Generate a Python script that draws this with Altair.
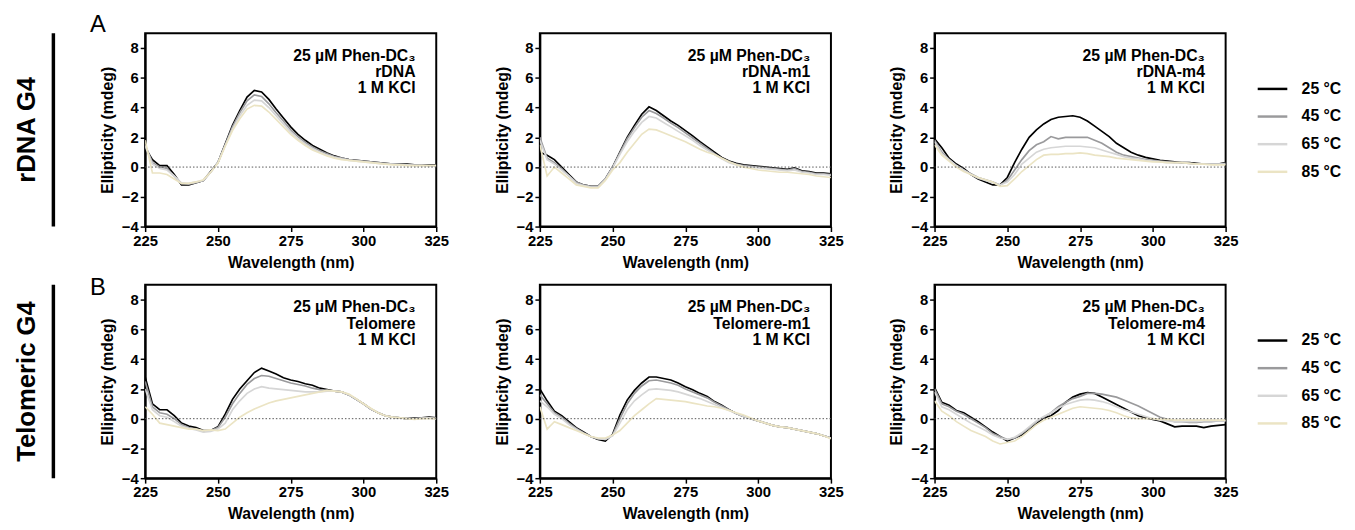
import altair as alt
import pandas as pd

WAVELENGTH = [225 + 2.5 * i for i in range(41)]
TEMPS = ["25 °C", "45 °C", "65 °C", "85 °C"]
COLORS = ["#000000", "#9a9a9c", "#d6d6d6", "#ebe4c4"]
X_TICKS = [225, 250, 275, 300, 325]
Y_TICKS = [-4, -2, 0, 2, 4, 6, 8]
DRUG = "25 µM Phen-DC₃"
SALT = "1 M KCl"
ROW_LABELS = ["rDNA G4", "Telomeric G4"]
LETTERS = ["A", "B"]

# rDNA
RDNA_25 = [1.3, 0.5, 0.1, 0.1, -0.5, -1.2, -1.2, -1.05, -0.9, -0.3, 0.3, 1.55, 2.8, 3.8, 4.7, 5.15, 5.05, 4.55, 3.9, 3.3, 2.7, 2.2, 1.8, 1.45, 1.2, 0.95, 0.75, 0.6, 0.5, 0.45, 0.4, 0.35, 0.3, 0.25, 0.2, 0.2, 0.2, 0.15, 0.15, 0.15, 0.15]
RDNA_45 = [1.5, 0.3, 0.0, -0.1, -0.6, -1.1, -1.15, -1.05, -0.9, -0.35, 0.3, 1.5, 2.7, 3.65, 4.45, 4.85, 4.75, 4.25, 3.65, 3.1, 2.5, 2.05, 1.65, 1.35, 1.1, 0.9, 0.7, 0.6, 0.5, 0.45, 0.4, 0.35, 0.3, 0.25, 0.2, 0.2, 0.15, 0.15, 0.15, 0.1, 0.1]
RDNA_65 = [1.4, 0.2, -0.1, -0.2, -0.6, -1.1, -1.1, -1.0, -0.9, -0.35, 0.3, 1.45, 2.55, 3.45, 4.15, 4.5, 4.45, 4.0, 3.45, 2.9, 2.35, 1.9, 1.55, 1.25, 1.0, 0.8, 0.65, 0.55, 0.45, 0.4, 0.35, 0.3, 0.25, 0.2, 0.2, 0.15, 0.15, 0.1, 0.1, 0.1, 0.1]
RDNA_85 = [1.8, -0.4, -0.4, -0.5, -0.8, -1.1, -1.1, -1.0, -0.85, -0.35, 0.25, 1.4, 2.45, 3.25, 3.9, 4.15, 4.1, 3.7, 3.2, 2.7, 2.2, 1.8, 1.45, 1.15, 0.95, 0.75, 0.6, 0.5, 0.45, 0.4, 0.35, 0.3, 0.25, 0.2, 0.15, 0.15, 0.1, 0.1, 0.1, 0.1, 0.1]

# rDNA-m1
RDNA_M1_25 = [1.0, 0.8, 0.5, 0.0, -0.5, -1.0, -1.2, -1.3, -1.3, -0.8, 0.0, 1.0, 2.0, 2.8, 3.55, 4.05, 3.8, 3.45, 3.1, 2.8, 2.45, 2.1, 1.7, 1.35, 1.0, 0.65, 0.4, 0.25, 0.15, 0.1, 0.05, 0.0, -0.05, -0.1, -0.15, -0.05, -0.25, -0.3, -0.4, -0.4, -0.45]
RDNA_M1_45 = [2.0, 0.6, 0.3, -0.1, -0.6, -1.0, -1.2, -1.3, -1.3, -0.8, 0.0, 0.95, 1.9, 2.65, 3.35, 3.8, 3.6, 3.3, 2.95, 2.65, 2.3, 1.95, 1.6, 1.25, 0.9, 0.6, 0.35, 0.2, 0.1, 0.05, 0.0, -0.05, -0.1, -0.15, -0.2, -0.1, -0.3, -0.35, -0.45, -0.45, -0.5]
RDNA_M1_65 = [1.8, 0.5, 0.2, -0.2, -0.6, -1.1, -1.25, -1.35, -1.35, -0.85, -0.05, 0.85, 1.7, 2.4, 3.0, 3.4, 3.3, 3.0, 2.7, 2.4, 2.1, 1.8, 1.45, 1.15, 0.85, 0.55, 0.3, 0.15, 0.05, 0.0, -0.05, -0.1, -0.15, -0.2, -0.25, -0.2, -0.35, -0.4, -0.5, -0.5, -0.55]
RDNA_M1_85 = [1.5, -0.6, 0.0, -0.4, -0.8, -1.2, -1.3, -1.4, -1.4, -0.9, -0.2, 0.3, 1.0, 1.6, 2.2, 2.55, 2.5, 2.3, 2.1, 1.9, 1.7, 1.45, 1.2, 1.0, 0.85, 0.6, 0.35, 0.15, 0.0, -0.1, -0.2, -0.25, -0.3, -0.35, -0.35, -0.4, -0.45, -0.5, -0.6, -0.65, -0.7]

# rDNA-m4
RDNA_M4_25 = [1.9, 1.3, 0.6, 0.2, -0.1, -0.5, -0.8, -1.0, -1.2, -1.2, -0.7, 0.3, 1.2, 2.0, 2.5, 2.9, 3.2, 3.35, 3.4, 3.45, 3.35, 3.1, 2.75, 2.4, 2.05, 1.6, 1.3, 1.0, 0.8, 0.65, 0.55, 0.45, 0.4, 0.35, 0.3, 0.3, 0.25, 0.2, 0.2, 0.2, 0.3]
RDNA_M4_45 = [1.8, 1.0, 0.5, 0.1, -0.2, -0.45, -0.7, -0.85, -1.0, -1.2, -0.9, -0.2, 0.5, 1.1, 1.5, 1.7, 2.05, 1.9, 2.0, 2.0, 2.0, 2.0, 1.8, 1.6, 1.3, 1.0, 0.8, 0.7, 0.6, 0.5, 0.45, 0.4, 0.35, 0.3, 0.3, 0.25, 0.2, 0.2, 0.2, 0.2, 0.25]
RDNA_M4_65 = [1.7, 0.9, 0.5, 0.1, -0.2, -0.5, -0.75, -0.9, -1.05, -1.2, -1.0, -0.5, 0.2, 0.6, 1.0, 1.2, 1.3, 1.35, 1.4, 1.4, 1.4, 1.35, 1.3, 1.15, 1.0, 0.85, 0.7, 0.6, 0.55, 0.45, 0.4, 0.35, 0.3, 0.3, 0.3, 0.25, 0.2, 0.2, 0.2, 0.2, 0.2]
RDNA_M4_85 = [1.5, 0.8, 0.4, 0.0, -0.3, -0.5, -0.7, -0.85, -1.0, -1.3, -1.25, -0.8, -0.3, 0.1, 0.5, 0.8, 0.85, 0.85, 0.9, 0.9, 0.95, 0.9, 0.8, 0.75, 0.7, 0.6, 0.55, 0.5, 0.45, 0.4, 0.35, 0.35, 0.3, 0.3, 0.3, 0.25, 0.2, 0.2, 0.15, 0.15, 0.15]

# Telomere
TEL_25 = [2.8, 1.0, 0.6, 0.6, 0.2, -0.3, -0.5, -0.6, -0.8, -0.8, -0.55, 0.3, 1.3, 2.0, 2.55, 3.1, 3.4, 3.2, 3.0, 2.75, 2.6, 2.5, 2.35, 2.25, 2.05, 1.95, 1.85, 1.8, 1.6, 1.3, 1.0, 0.65, 0.4, 0.2, 0.1, 0.05, 0.0, 0.05, 0.05, 0.1, 0.05]
TEL_45 = [2.5, 0.8, 0.4, 0.3, 0.0, -0.4, -0.6, -0.7, -0.85, -0.8, -0.6, 0.1, 1.0, 1.7, 2.3, 2.7, 2.9, 2.85, 2.7, 2.55, 2.4, 2.3, 2.2, 2.05, 1.95, 1.9, 1.85, 1.8, 1.6, 1.3, 1.0, 0.65, 0.4, 0.2, 0.1, 0.05, 0.0, 0.0, 0.05, 0.05, 0.0]
TEL_65 = [2.0, 0.6, 0.2, 0.1, -0.2, -0.5, -0.65, -0.75, -0.9, -0.85, -0.7, -0.3, 0.6, 1.2, 1.7, 2.0, 2.15, 2.05, 2.0, 1.95, 1.9, 1.85, 1.8, 1.8, 1.8, 1.85, 1.85, 1.8, 1.6, 1.3, 1.0, 0.65, 0.4, 0.2, 0.1, 0.05, 0.0, 0.0, 0.0, 0.05, 0.0]
TEL_85 = [0.8, 0.3, -0.3, -0.4, -0.5, -0.6, -0.7, -0.7, -0.8, -0.75, -0.8, -0.7, -0.3, 0.1, 0.4, 0.65, 0.85, 1.05, 1.2, 1.3, 1.4, 1.5, 1.6, 1.7, 1.8, 1.9, 1.85, 1.8, 1.65, 1.35, 1.0, 0.7, 0.4, 0.2, 0.1, 0.05, 0.0, -0.05, 0.0, 0.0, 0.0]

# Telomere-m1
TEL_M1_25 = [2.0, 1.2, 0.5, 0.2, -0.2, -0.6, -0.9, -1.2, -1.4, -1.5, -1.05, 0.25, 1.25, 1.9, 2.4, 2.8, 2.8, 2.7, 2.6, 2.4, 2.15, 1.95, 1.7, 1.5, 1.15, 0.9, 0.6, 0.35, 0.15, 0.0, -0.15, -0.3, -0.45, -0.55, -0.6, -0.7, -0.8, -0.9, -1.0, -1.15, -1.3]
TEL_M1_45 = [1.6, 1.0, 0.4, 0.1, -0.3, -0.65, -0.95, -1.2, -1.35, -1.4, -1.1, 0.0, 1.0, 1.7, 2.2, 2.55, 2.6, 2.5, 2.4, 2.25, 2.0, 1.8, 1.6, 1.4, 1.1, 0.85, 0.6, 0.35, 0.15, 0.0, -0.15, -0.3, -0.45, -0.55, -0.6, -0.7, -0.8, -0.9, -1.0, -1.15, -1.3]
TEL_M1_65 = [1.2, 0.8, 0.3, 0.0, -0.4, -0.7, -1.0, -1.2, -1.35, -1.4, -1.15, -0.3, 0.6, 1.2, 1.6, 1.95, 2.0, 1.95, 1.9, 1.8, 1.65, 1.5, 1.35, 1.15, 0.95, 0.75, 0.55, 0.35, 0.15, 0.0, -0.15, -0.3, -0.45, -0.55, -0.6, -0.7, -0.8, -0.9, -1.0, -1.15, -1.3]
TEL_M1_85 = [0.8, -0.7, -0.2, -0.4, -0.6, -0.8, -1.0, -1.2, -1.3, -1.3, -1.1, -0.8, -0.3, 0.2, 0.6, 1.0, 1.35, 1.3, 1.25, 1.2, 1.15, 1.05, 0.95, 0.85, 0.8, 0.7, 0.55, 0.4, 0.25, 0.05, -0.15, -0.3, -0.45, -0.55, -0.6, -0.7, -0.8, -0.9, -1.0, -1.15, -1.35]

# Telomere-m4
TEL_M4_25 = [2.1, 1.1, 0.9, 0.55, 0.4, 0.1, -0.2, -0.55, -0.9, -1.2, -1.5, -1.3, -1.1, -0.75, -0.35, 0.05, 0.2, 0.55, 1.1, 1.45, 1.65, 1.75, 1.7, 1.45, 1.2, 0.95, 0.7, 0.45, 0.2, 0.05, -0.05, -0.15, -0.35, -0.55, -0.5, -0.5, -0.5, -0.6, -0.5, -0.45, -0.4]
TEL_M4_45 = [2.0, 1.0, 0.8, 0.5, 0.3, 0.0, -0.3, -0.6, -1.0, -1.2, -1.4, -1.3, -1.0, -0.6, -0.2, 0.1, 0.4, 0.8, 1.1, 1.35, 1.5, 1.7, 1.7, 1.65, 1.55, 1.45, 1.25, 1.05, 0.85, 0.6, 0.35, 0.1, -0.05, -0.2, -0.2, -0.25, -0.25, -0.2, -0.2, -0.15, -0.15]
TEL_M4_65 = [1.8, 0.8, 0.6, 0.3, 0.0, -0.3, -0.55, -0.8, -1.1, -1.3, -1.4, -1.25, -0.95, -0.55, -0.15, 0.15, 0.4, 0.7, 0.95, 1.1, 1.25, 1.3, 1.25, 1.15, 1.0, 0.8, 0.6, 0.45, 0.3, 0.15, 0.0, -0.1, -0.15, -0.2, -0.2, -0.2, -0.2, -0.15, -0.15, -0.15, -0.15]
TEL_M4_85 = [1.2, 0.5, 0.2, -0.2, -0.5, -0.8, -1.0, -1.2, -1.5, -1.7, -1.6, -1.5, -1.2, -0.8, -0.4, -0.1, 0.1, 0.3, 0.5, 0.7, 0.8, 0.75, 0.7, 0.65, 0.55, 0.4, 0.2, 0.05, 0.0, 0.0, 0.0, -0.05, -0.05, -0.1, -0.1, -0.1, -0.1, -0.1, -0.1, -0.1, -0.1]

PANELS = [
    [("rDNA", [RDNA_25, RDNA_45, RDNA_65, RDNA_85]),
     ("rDNA-m1", [RDNA_M1_25, RDNA_M1_45, RDNA_M1_65, RDNA_M1_85]),
     ("rDNA-m4", [RDNA_M4_25, RDNA_M4_45, RDNA_M4_65, RDNA_M4_85])],
    [("Telomere", [TEL_25, TEL_45, TEL_65, TEL_85]),
     ("Telomere-m1", [TEL_M1_25, TEL_M1_45, TEL_M1_65, TEL_M1_85]),
     ("Telomere-m4", [TEL_M4_25, TEL_M4_45, TEL_M4_65, TEL_M4_85])],
]

FONT = "Liberation Sans"
W, H = 295, 196


def panel(name, series, row, col):
    rows = []
    for k, (t, vals) in enumerate(zip(TEMPS, series)):
        for w, v in zip(WAVELENGTH, vals):
            rows.append({"wl": w, "cd": v, "temp": t, "k": k})
    df = pd.DataFrame(rows)

    x = alt.X("wl:Q", scale=alt.Scale(domain=[225, 325], nice=False, zero=False),
              axis=alt.Axis(values=X_TICKS, title="Wavelength (nm)",
                            labelFlush=False, labelOverlap=False))
    y = alt.Y("cd:Q", scale=alt.Scale(domain=[-4, 9], nice=False, zero=False),
              axis=alt.Axis(values=Y_TICKS, title="Ellipticity (mdeg)",
                            labelFlush=False, labelOverlap=False))
    if col == 2:
        leg = alt.Legend(title=None, orient="none", legendX=326, legendY=40,
                         symbolType="stroke", symbolSize=900, symbolStrokeWidth=2.5,
                         labelFontSize=16, labelFontWeight="bold", labelFont=FONT,
                         labelColor="black", labelOffset=13, rowPadding=3, padding=0)
    else:
        leg = None
    color = alt.Color("temp:N", scale=alt.Scale(domain=TEMPS, range=COLORS), legend=leg)

    lines = alt.Chart(df).mark_line(strokeWidth=1.7, clip=True).encode(
        x=x, y=y, color=color, detail="k:O")
    zero = alt.Chart(pd.DataFrame({"cd": [0]})).mark_rule(
        strokeDash=[1.5, 2], color="#555555", strokeWidth=1).encode(y=y)

    one = pd.DataFrame({"a": [0]})
    note = alt.Chart(one).mark_text(
        align="right", baseline="alphabetic", fontSize=16, fontWeight="bold",
        font=FONT, lineHeight=16.5, color="black"
    ).encode(x=alt.value(274), y=alt.value(28), text=alt.value([DRUG, name, SALT]))

    layers = [lines, zero, note]
    if col == 0:
        label = alt.Chart(one).mark_text(
            angle=270, fontSize=26, fontWeight="bold", font=FONT, color="black",
            align="center", baseline="middle"
        ).encode(x=alt.value(-120), y=alt.value(H / 2), text=alt.value(ROW_LABELS[row]))
        bar = alt.Chart(one).mark_rule(color="black", strokeWidth=3.5).encode(
            x=alt.value(-93), y=alt.value(0), y2=alt.value(H))
        letter = alt.Chart(one).mark_text(
            fontSize=24, font=FONT, color="black", align="center", baseline="middle"
        ).encode(x=alt.value(-48), y=alt.value(-8 if row == 0 else 3),
                 text=alt.value(LETTERS[row]))
        layers += [label, bar, letter]
    return alt.layer(*layers).properties(width=W, height=H)


charts = []
for r, row_panels in enumerate(PANELS):
    for c, (n, s) in enumerate(row_panels):
        charts.append(panel(n, s, r, c))

chart = alt.concat(
    *charts, columns=3, spacing=alt.RowColnumber(row=59, column=105), bounds="flush"
).resolve_scale(color="independent").properties(
    padding={"left": 4, "top": 1, "right": 4, "bottom": 4}
).configure(font=FONT).configure_view(
    stroke="black", strokeWidth=2
).configure_axis(
    grid=False, domainColor="black", domainWidth=2, tickColor="black", tickWidth=1.5,
    tickSize=5, labelFont=FONT, labelFontSize=15, labelFontWeight="bold",
    labelColor="black", labelPadding=2, titleFont=FONT, titleFontSize=16,
    titleFontWeight="bold", titleColor="black", titlePadding=6
)

chart.save("out.html", embed_options={"renderer": "svg", "actions": False})
